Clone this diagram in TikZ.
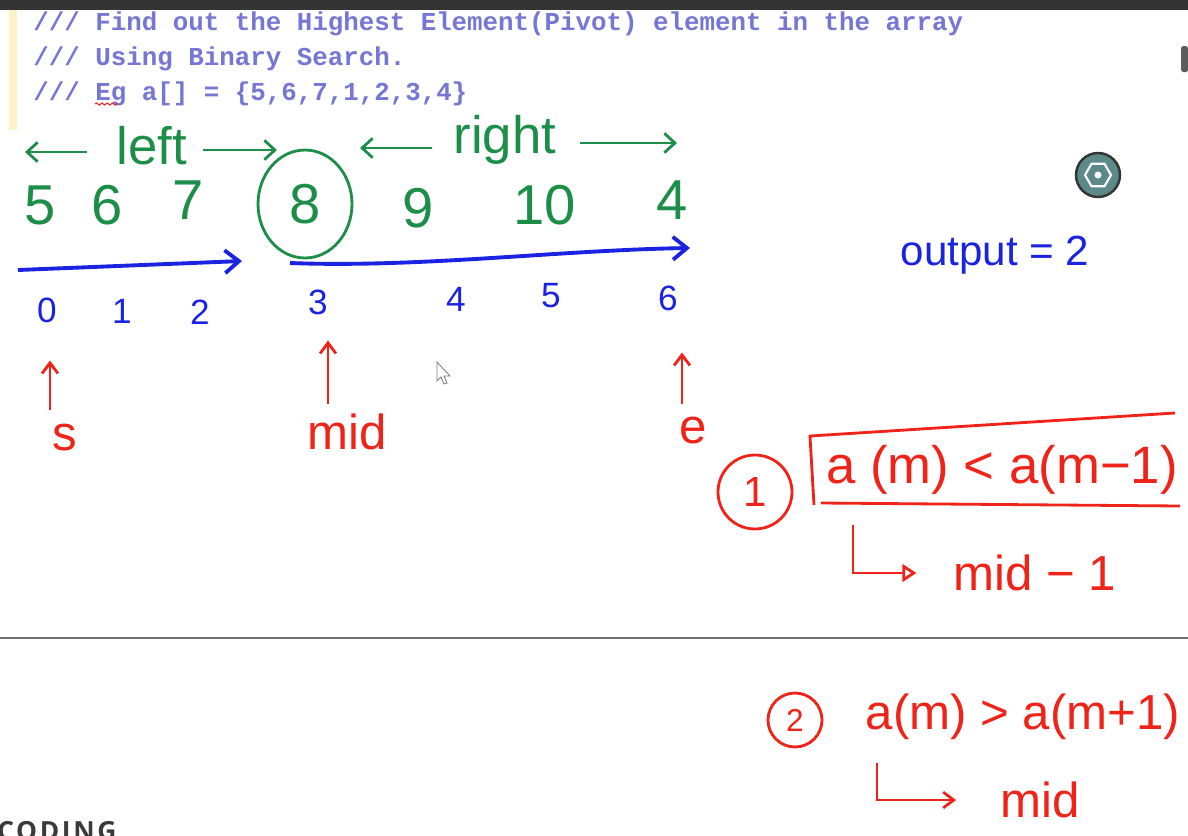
\documentclass[tikz,border=0pt]{standalone}
\usepackage{fontspec}
\newfontfamily\codefont{Liberation Mono}
\newfontfamily\handfont{Liberation Sans}
\newfontfamily\brandfont[LetterSpace=10]{Open Sans}
\usetikzlibrary{%
	calc,%
	arrows.meta,%
	positioning,%
	shapes.geometric,%
	decorations.pathmorphing,%
}
\tikzset{
	>={Straight Barb[length=6pt, width=11pt]},%
	codeline/.style={%
			font=\codefont\bfseries\fontsize{14.7}{18}\selectfont,%
			text=ccode,%
			inner sep=0,%
			anchor=base west},%
	greentext/.style={%
			font=\handfont\fontsize{30}{36}\selectfont,%
			text=cgreen,%
			inner sep=1pt},%
	valnode/.style={%
			font=\handfont\fontsize{32}{38}\selectfont,%
			text=cgreen,%
			inner sep=1pt},%
	idxnode/.style={%
			font=\handfont\fontsize{20}{24}\selectfont,%
			text=cblue,%
			inner sep=1pt},%
	rednote/.style={%
			font=\handfont\fontsize{28}{34}\selectfont,%
			text=cred,%
			inner sep=1pt},%
	numcirc/.style={%
			circle,%
			draw=cred,%
			line width=1.6pt,%
			text=cred,%
			inner sep=0},%
	greenline/.style={%
			draw=cgreen,%
			line width=1.6pt,%
			->},%
	blueline/.style={%
			draw=cblue,%
			line width=2.2pt,%
			-{Straight Barb[length=8pt, width=13pt]}},%
	redline/.style={%
			draw=cred,%
			line width=1.6pt},%
	redarrow/.style={%
			redline,%
			-{Straight Barb[length=6pt, width=9pt]}},%
}
\definecolor{cgreen}{RGB}{28, 142, 72}
\definecolor{cblue}{RGB}{25, 35, 225}
\definecolor{cred}{RGB}{240, 35, 25}
\definecolor{ccode}{RGB}{118, 118, 212}
\definecolor{cbar}{RGB}{52, 52, 52}
\definecolor{cmargin}{RGB}{253, 242, 200}
\definecolor{cicon}{RGB}{92, 138, 136}
\definecolor{csep}{RGB}{112, 112, 112}
\definecolor{cbrand}{RGB}{58, 58, 58}

\begin{document}
\begin{tikzpicture}[x=0.02cm, y=-0.02cm]%
	\fill[white] (0,0) rectangle (1188,836);
	\useasboundingbox (0,0) rectangle (1188,836);

	% editor frame
	\fill[cbar] (0,0) rectangle (1188,10);
	\fill[cmargin] (9,10) rectangle (17,130);
	\fill[cbar!80, rounded corners=1pt] (1181,46) rectangle (1188,72);

	\node[codeline] (c1) at (33,30) {/// Find out the Highest Element(Pivot) element in the array};
	\node[codeline] (c2) at (33,65) {/// Using Binary Search.};
	\node[codeline] (c3) at (33,100) {/// Eg a[] = \{5,6,7,1,2,3,4\}};
	\draw[cred, line width=0.6pt, decorate, decoration={snake, amplitude=0.6pt, segment length=3pt}] (95,104) -- (117,104);

	% array
	\node[greentext] (lft) at (152,146) {left};
	\node[greentext] (rgt) at (505,140) {right};
	\coordinate (lftL) at (25,152);
	\coordinate (lftR) at (277,150);
	\coordinate (rgtL) at (360,148);
	\coordinate (rgtR) at (677,143);
	\draw[greenline] ($(lft.west)+(-28,6)$) -- (lftL);
	\draw[greenline] ($(lft.east)+(14,4)$) -- (lftR);
	\draw[greenline] ($(rgt.west)+(-20,8)$) -- (rgtL);
	\draw[greenline] ($(rgt.east)+(22,3)$) -- (rgtR);

	\node[valnode] (v0) at (40,205) {5};
	\node[valnode] (v1) at (107,205) {6};
	\node[valnode] (v2) at (188,200) {7};
	\node[valnode, ellipse, draw=cgreen, line width=1.6pt, minimum width=1.88cm, minimum height=2.16cm] (v3) at (305,204) {8};
	\node[valnode] (v4) at (418,208) {9};
	\node[valnode] (v5) at (545,205) {10};
	\node[valnode] (v6) at (672,200) {4};

	\coordinate (lsA) at (18,270);
	\coordinate (lsB) at (242,261);
	\coordinate (rsA) at (290,263);
	\coordinate (rsB) at (690,248);
	\draw[blueline] (lsA) -- (lsB);
	\draw[blueline] (rsA) .. controls (420,268) and (560,250) .. (rsB);

	\node[idxnode] (i0) at (47,310) {0};
	\node[idxnode] (i1) at (122,311) {1};
	\node[idxnode] (i2) at (200,312) {2};
	\node[idxnode] (i3) at (318,302) {3};
	\node[idxnode] (i4) at (456,299) {4};
	\node[idxnode] (i5) at (551,296) {5};
	\node[idxnode] (i6) at (668,298) {6};

	\node[rednote] (s) at (65,438) {s};
	\node[rednote] (mid) at (347,432) {mid};
	\node[rednote] (e) at (693,430) {e};
	\draw[redarrow] ($(s.north)+(-15,-12)$) -- ($(i0.south)+(3,36)$);
	\draw[redarrow] ($(mid.north)+(-19,-8)$) -- ($(i3.south)+(10,24)$);
	\draw[redarrow] ($(e.north)+(-11,-10)$) -- ($(i6.south)+(14,40)$);

	\node[idxnode, font=\handfont\fontsize{24}{28}\selectfont] (out) at (995,255) {output = 2};

	% cases
	\node[numcirc, minimum size=1.48cm, font=\handfont\fontsize{24}{28}\selectfont] (n1) at (755,492) {1};
	\node[rednote, font=\handfont\fontsize{30}{36}\selectfont] (f1) at (1002,470) {a (m) < a(m−1)};
	\draw[redline] (1175,413) -- (810,436) -- (814,505);
	\draw[redline] (821,503) -- (1180,506);
	\coordinate (h1) at (853,525);
	\node[rednote] (r1) at (1035,573) {mid − 1};
	\draw[redline, -{Triangle[open, length=8pt, width=10pt]}, shorten >=20pt] (h1) |- (r1);

	\draw[csep, line width=1.1pt] (0,638) -- (1188,638);

	\node[numcirc, minimum size=1.08cm, font=\handfont\fontsize{18}{22}\selectfont] (n2) at (795,720) {2};
	\node[rednote] (f2) at (1023,717) {a(m) > a(m+1)};
	\coordinate (h2) at (877,763);
	\node[rednote] (r2) at (1040,800) {mid};
	\draw[redarrow, shorten >=24pt] (h2) |- (r2);

	% overlays
	\node[circle, fill=cicon, draw=cbar, line width=1.4pt, minimum size=0.88cm] (hex) at (1098,175) {};
	\node[regular polygon, regular polygon sides=6, draw=white, line width=1.2pt, minimum size=0.52cm, inner sep=0] (hexin) at (hex) {};
	\node[circle, fill=white, minimum size=0.14cm, inner sep=0] (hexdot) at (hex) {};
	\draw[gray, fill=white, line width=0.5pt] (437,362) -- (437,381) -- (441,377) -- (444,384) -- (447,383) -- (444,376) -- (450,376) -- cycle;

	\node[anchor=north west, inner sep=0, font=\brandfont\bfseries\fontsize{15}{18}\selectfont, text=cbrand] (brand) at (-3,821) {CODING};
\end{tikzpicture}
\end{document}
